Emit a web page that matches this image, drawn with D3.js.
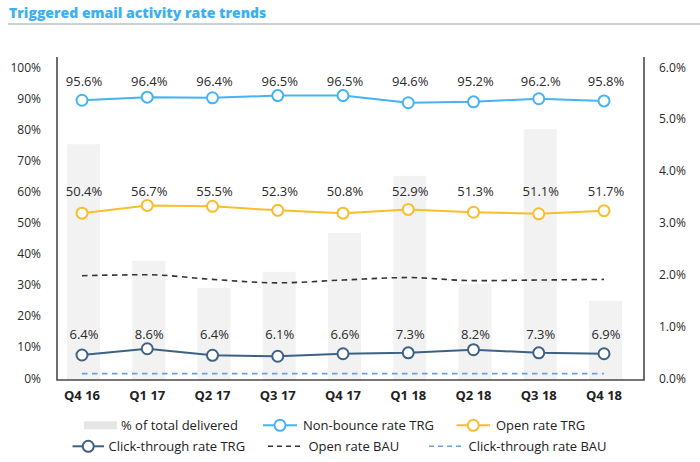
<!DOCTYPE html>
<html><head><meta charset="utf-8">
<script src="https://cdn.jsdelivr.net/npm/d3@7"></script>
<style>body{margin:0;background:#fff}svg{display:block}</style>
</head><body>
<svg id="c" width="700" height="462"></svg>
<script>
const categories = ["Q4 16","Q1 17","Q2 17","Q3 17","Q4 17","Q1 18","Q2 18","Q3 18","Q4 18"];
// bars: % of total delivered (right axis)
const deliveredShare = [4.51, 2.26, 1.74, 2.05, 2.80, 3.90, 1.81, 4.80, 1.49];
// plotted positions
const nonBounce = [89.3, 90.3, 90.1, 90.8, 90.8, 88.5, 88.8, 89.8, 89.1];
const openRate  = [53.0, 55.5, 55.2, 53.9, 53.0, 54.2, 53.3, 52.8, 53.8];
const clickRate = [7.4, 9.4, 7.3, 7.0, 7.8, 8.1, 9.1, 8.1, 7.8];
const openBAU   = [32.9, 33.2, 31.7, 30.6, 31.5, 32.3, 31.3, 31.5, 31.7];
const clickBAU  = [1.4, 1.4, 1.4, 1.4, 1.4, 1.4, 1.4, 1.4, 1.4];
// printed labels
const nonBounceLabels = ["95.6%","96.4%","96.4%","96.5%","96.5%","94.6%","95.2%","96.2.%","95.8%"];
const openRateLabels  = ["50.4%","56.7%","55.5%","52.3%","50.8%","52.9%","51.3%","51.1%","51.7%"];
const clickRateLabels = ["6.4%","8.6%","6.4%","6.1%","6.6%","7.3%","8.2%","7.3%","6.9%"];
const leftTicks = [0,10,20,30,40,50,60,70,80,90,100];
const rightTicks = [0,1,2,3,4,5,6];

const C = {
  bar: "#f2f2f2", nb: "#45b3f4", open: "#fbbd2c", click: "#3d6285",
  openBAU: "#333", clickBAU: "#6e9fdc", axis: "#4a4a4a", text: "#2a2a2a"
};
const FONT = "'Open Sans', sans-serif";

const svg = d3.select("#c");
const x = d3.scalePoint().domain(categories).range([82, 604]);
const yL = d3.scaleLinear().domain([0,100]).range([378, 67]);
const yR = d3.scaleLinear().domain([0,6]).range([378, 67]);
const frameL = 57, frameR = 644, frameB = yL(0) + 2, frameT = 57;

// Title
svg.append("text").attr("x", 9).attr("y", 18)
  .attr("font-family", FONT).attr("font-weight", 800).attr("font-size", 14)
  .attr("fill", "#3db0f2").text("Triggered email activity rate trends");
svg.append("line").attr("x1", 8).attr("x2", 700).attr("y1", 24).attr("y2", 24)
  .attr("stroke", "#cfcfcf").attr("stroke-width", 2);

// Bars
const bw = 33;
svg.append("g").selectAll("rect").data(deliveredShare).join("rect")
  .attr("x", (d,i) => x(categories[i]) - bw/2 + 1.5)
  .attr("width", bw)
  .attr("y", d => yR(d))
  .attr("height", d => frameB - yR(d))
  .attr("fill", C.bar);

// Frame
const fr = svg.append("g").attr("stroke", C.axis).attr("stroke-width", 1.6).attr("fill", "none");
fr.append("path").attr("d", `M${frameL},${frameT}V${frameB}H${frameR}V${frameT}`);

// Left axis labels
svg.append("g").selectAll("text").data(leftTicks).join("text")
  .attr("x", 41).attr("y", d => yL(d) + 4.5).attr("text-anchor", "end")
  .attr("font-family", FONT).attr("font-size", 12).attr("fill", C.text)
  .text(d => d + "%");
// Right axis labels
svg.append("g").selectAll("text").data(rightTicks).join("text")
  .attr("x", 659).attr("y", d => yR(d) + 4.5)
  .attr("font-family", FONT).attr("font-size", 12).attr("fill", C.text)
  .text(d => d.toFixed(1) + "%");
// x labels
svg.append("g").selectAll("text").data(categories).join("text")
  .attr("x", d => x(d)).attr("y", 400).attr("text-anchor", "middle")
  .attr("font-family", FONT).attr("font-weight", 700).attr("font-size", 13)
  .attr("fill", "#222").text(d => d);

// Dashed BAU lines
function dashed(vals, color) {
  svg.append("path").datum(vals)
    .attr("d", d3.line().x((d,i) => x(categories[i])).y(d => yL(d)).curve(d3.curveMonotoneX))
    .attr("fill", "none").attr("stroke", color).attr("stroke-width", 1.6)
    .attr("stroke-dasharray", "5.5,4.5");
}
dashed(openBAU, C.openBAU);
dashed(clickBAU, C.clickBAU);

// Marker series
function series(vals, labels, color, sw) {
  const g = svg.append("g");
  g.append("path").datum(vals)
    .attr("d", d3.line().x((d,i) => x(categories[i])).y(d => yL(d)))
    .attr("fill", "none").attr("stroke", color).attr("stroke-width", sw);
  g.selectAll("circle").data(vals).join("circle")
    .attr("cx", (d,i) => x(categories[i])).attr("cy", d => yL(d)).attr("r", 5.5)
    .attr("fill", "#fff").attr("stroke", color).attr("stroke-width", 2);
  const ly = yL(d3.max(vals)) - 9.5;
  g.selectAll("text").data(labels).join("text")
    .attr("x", (d,i) => x(categories[i]) + 2).attr("y", ly)
    .attr("text-anchor", "middle").attr("font-family", FONT).attr("font-size", 13)
    .attr("fill", C.text).text(d => d);
}
series(nonBounce, nonBounceLabels, C.nb, 2);
series(openRate, openRateLabels, C.open, 2);
series(clickRate, clickRateLabels, C.click, 2);

// Legend
const lg = svg.append("g").attr("font-family", FONT).attr("font-size", 13).attr("fill", "#222");
function legendText(xp, yc, t) {
  lg.append("text").attr("x", xp).attr("y", yc + 4.5).attr("fill", "#222").text(t);
}
function legendMarker(x1, x2, yc, color) {
  lg.append("line").attr("x1", x1).attr("x2", x2).attr("y1", yc).attr("y2", yc)
    .attr("stroke", color).attr("stroke-width", 2);
  lg.append("circle").attr("cx", (x1+x2)/2).attr("cy", yc).attr("r", 5.5)
    .attr("fill", "#fff").attr("stroke", color).attr("stroke-width", 2);
}
function legendDash(x1, x2, yc, color) {
  lg.append("line").attr("x1", x1).attr("x2", x2).attr("y1", yc).attr("y2", yc)
    .attr("stroke", color).attr("stroke-width", 1.6).attr("stroke-dasharray", "5,4");
}
const r1 = 425.3, r2 = 446.3;
lg.append("rect").attr("x", 84).attr("y", r1 - 4).attr("width", 33).attr("height", 8).attr("fill", "#e6e6e6");
legendText(121, r1, "% of total delivered");
legendMarker(263, 297, r1, C.nb);
legendText(303, r1, "Non-bounce rate TRG");
legendMarker(456.5, 490, r1, C.open);
legendText(496, r1, "Open rate TRG");
legendMarker(72.5, 104, r2, C.click);
legendText(108.5, r2, "Click-through rate TRG");
legendDash(268, 304, r2, C.openBAU);
legendText(308.5, r2, "Open rate BAU");
legendDash(429, 464, r2, C.clickBAU);
legendText(468.5, r2, "Click-through rate BAU");
</script>
</body></html>
